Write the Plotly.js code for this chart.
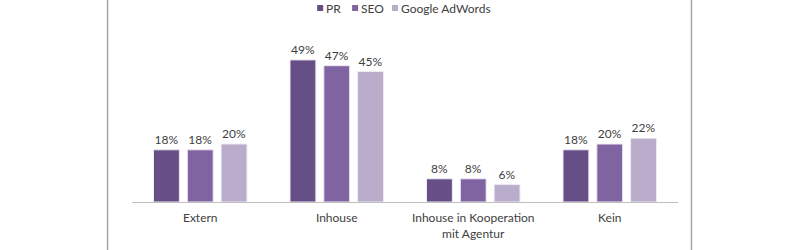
<!DOCTYPE html>
<html><head><meta charset="utf-8">
<script src="https://cdn.plot.ly/plotly-3.0.1.min.js"></script>
<style>html,body{margin:0;padding:0;background:#fff;}#chart{width:800px;height:250px;}</style>
</head><body><div id="chart"></div>
<script>
var categories = ["Extern", "Inhouse", "Inhouse in Kooperation<br>mit Agentur", "Kein"];
var seriesNames = ["PR", "SEO", "Google AdWords"];
var prValues = [18, 49, 8, 18];
var seoValues = [18, 47, 8, 20];
var adwordsValues = [20, 45, 6, 22];
var colors = ["#664e86", "#8064a2", "#b9adcb"];
var allValues = [prValues, seoValues, adwordsValues];

var FONT = 'Lato, "Open Sans", sans-serif';
var traces = allValues.map(function(v, i){
  return {
    type: 'bar', name: seriesNames[i], x: categories, y: v,
    text: v.map(function(d){return d + '%';}),
    textposition: 'outside', cliponaxis: false,
    textfont: {family: FONT, size: 12, color: '#404040'},
    marker: {color: colors[i], line: {color: '#eeeaf2', width: 1}},
    hoverinfo: 'none', showlegend: false
  };
});

var L = 131.5, R = 678.5, T = 30, B = 202;
var W = R - L, H = B - T;
function px(x){ return (x - L) / W; }
function py(y){ return (B - y) / H; }

// legend drawn as small squares + labels (positions in pixels)
var legendMarkerX = [317, 352, 392];
var shapes = [
  {type: 'line', xref: 'paper', yref: 'paper', x0: px(107), x1: px(107), y0: -1, y1: 2,
   line: {color: '#a6a6a6', width: 1.5}},
  {type: 'line', xref: 'paper', yref: 'paper', x0: px(692), x1: px(692), y0: -1, y1: 2,
   line: {color: '#a6a6a6', width: 1.5}}
];
var annotations = [];
seriesNames.forEach(function(n, i){
  var x = legendMarkerX[i];
  shapes.push({type: 'rect', xref: 'paper', yref: 'paper', x0: px(x), x1: px(x + 6), y0: py(11), y1: py(5),
               fillcolor: colors[i], line: {width: 0}});
  annotations.push({xref: 'paper', yref: 'paper', x: px(x + 7), y: py(8), xanchor: 'left', yanchor: 'middle',
                    text: n, showarrow: false, font: {family: FONT, size: 12, color: '#404040'}});
});

var layout = {
  width: 800, height: 250,
  margin: {l: L, r: 800 - R, t: T, b: 250 - B, autoexpand: false},
  paper_bgcolor: '#fff', plot_bgcolor: '#fff',
  barmode: 'group', bargap: 0.257, bargroupgap: 0.235,
  font: {family: FONT, size: 12, color: '#404040'},
  showlegend: false,
  xaxis: {showline: true, linecolor: '#bfbfbf', linewidth: 1, ticks: 'outside', ticklen: 5, tickcolor: 'rgba(0,0,0,0)',
          showgrid: false, zeroline: false, automargin: false,
          tickfont: {size: 12, color: '#404040'}, fixedrange: true},
  yaxis: {range: [0, H / 2.9], visible: false, showgrid: false, zeroline: false, fixedrange: true},
  shapes: shapes,
  annotations: annotations
};
Plotly.newPlot('chart', traces, layout, {displayModeBar: false, staticPlot: true});
</script></body></html>
